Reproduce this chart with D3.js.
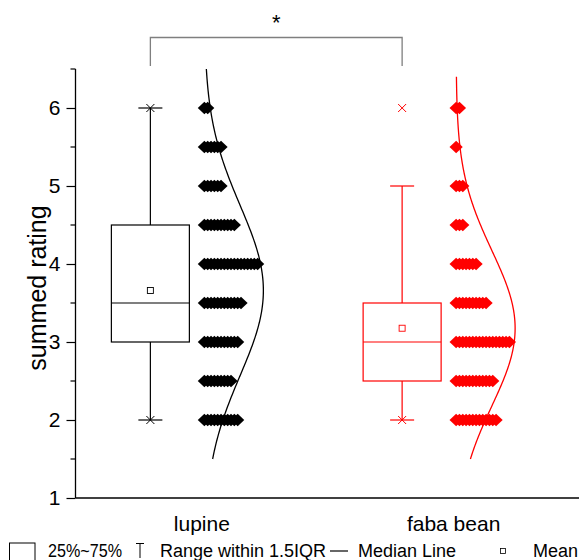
<!DOCTYPE html>
<html>
<head>
<meta charset="utf-8">
<script src="https://cdn.jsdelivr.net/npm/d3@7"></script>
<style>
  html, body { margin: 0; padding: 0; background: #fff; }
  svg { display: block; font-family: Arial, "Liberation Sans", sans-serif; }
</style>
</head>
<body>
<svg id="chart" width="581" height="560"></svg>
<script>
// ---- data ----
const categories = ["lupine", "faba bean"];
const ratingLevels = [2, 2.5, 3, 3.5, 4, 4.5, 5, 5.5, 6];
const lupineCounts = [11, 9, 11, 12, 17, 10, 6, 6, 2];
const fabaCounts   = [13, 12, 17, 10, 7, 3, 3, 1, 2];
const seriesColors = ["#000000", "#ff0000"];
const curveRanges  = [[1.5, 6.5], [1.5, 6.4]];
const yTicks = [1, 2, 3, 4, 5, 6];
const yMinorTicks = [1.5, 2.5, 3.5, 4.5, 5.5, 6.5];
const yTitle = "summed rating";
const significanceMark = "*";
const legendLabels = ["25%~75%", "Range within 1.5IQR", "Median Line", "Mean"];

const countsBySeries = [lupineCounts, fabaCounts];

// ---- layout ----
const svg = d3.select("#chart");
const axisLeft = 75.5, axisRight = 579, axisTop = 69, axisBottom = 498;

const y = d3.scaleLinear().domain([1, 6.5]).range([axisBottom, axisTop]);
const x = d3.scalePoint().domain(categories).range([axisLeft, axisRight]).padding(0.5);

const boxOffset = -51, boxWidth = 78, capWidth = 24;
const dotOffset = 3;                       // first marker of each row, right of the category
const dotStep = d3.scaleLinear().domain([0, 1]).range([0, 3.33]);
const curveWidth = d3.scaleLinear().range([0, 59]);

// ---- statistics per series ----
const stats = categories.map((cat, k) => {
  const values = [];
  ratingLevels.forEach((v, i) => { for (let j = 0; j < countsBySeries[k][i]; j++) values.push(v); });
  values.sort(d3.ascending);
  const q1 = d3.quantileSorted(values, 0.25);
  const med = d3.quantileSorted(values, 0.5);
  const q3 = d3.quantileSorted(values, 0.75);
  const iqr = q3 - q1;
  const lo = d3.min(values.filter(v => v >= q1 - 1.5 * iqr));
  const hi = d3.max(values.filter(v => v <= q3 + 1.5 * iqr));
  return {
    cat, k, values, q1, med, q3, lo, hi,
    mean: d3.mean(values), sd: d3.deviation(values),
    min: values[0], max: values[values.length - 1]
  };
});

// ---- axes ----
const gY = svg.append("g").attr("transform", `translate(${axisLeft},0)`);
gY.call(d3.axisLeft(y).tickValues(yTicks).tickFormat(d3.format("d")).tickSize(9).tickPadding(6))
  .call(g => g.select(".domain").remove());
gY.selectAll(".tick text").attr("font-size", 21).attr("fill", "#000")
  .attr("font-family", "Arial, 'Liberation Sans', sans-serif");
gY.selectAll(".tick line").attr("stroke", "#000").attr("stroke-width", 1.2);
gY.selectAll(".minor").data(yMinorTicks).join("line")
  .attr("x1", -5).attr("x2", 0)
  .attr("y1", d => y(d)).attr("y2", d => y(d))
  .attr("stroke", "#000").attr("stroke-width", 1.2);
gY.append("line").attr("x1", 0).attr("x2", 0).attr("y1", axisTop).attr("y2", axisBottom)
  .attr("stroke", "#000").attr("stroke-width", 1.3);

const gX = svg.append("g").attr("transform", `translate(0,${axisBottom})`);
gX.call(d3.axisBottom(x).tickSize(0).tickPadding(18))
  .call(g => g.select(".domain").remove());
gX.selectAll(".tick text").attr("font-size", 21).attr("fill", "#000")
  .attr("font-family", "Arial, 'Liberation Sans', sans-serif");
gX.append("line").attr("x1", axisLeft).attr("x2", axisRight).attr("y1", 0).attr("y2", 0)
  .attr("stroke", "#000").attr("stroke-width", 1.3);

svg.append("text")
  .attr("transform", "translate(37,288) rotate(-90)")
  .attr("text-anchor", "middle").attr("dominant-baseline", "central")
  .attr("font-size", 25).attr("fill", "#000").text(yTitle);

// ---- per-series drawing ----
function diamondPath(cx, cy) {
  const p = d3.path();
  p.moveTo(cx, cy - 6.2); p.lineTo(cx + 6.6, cy); p.lineTo(cx, cy + 6.2); p.lineTo(cx - 6.6, cy); p.closePath();
  return p.toString();
}
function cross(g, cx, cy, color) {
  const r = 4;
  g.append("path")
    .attr("d", `M${cx - r},${cy - r}L${cx + r},${cy + r}M${cx - r},${cy + r}L${cx + r},${cy - r}`)
    .attr("stroke", color).attr("stroke-width", 1).attr("fill", "none");
}

stats.forEach(s => {
  const color = seriesColors[s.k];
  const cx = x(s.cat);
  const bx = cx + boxOffset;
  const g = svg.append("g");

  // whiskers and caps
  g.append("line").attr("x1", bx).attr("x2", bx).attr("y1", y(s.q3)).attr("y2", y(s.hi))
    .attr("stroke", color).attr("stroke-width", 1.2);
  g.append("line").attr("x1", bx).attr("x2", bx).attr("y1", y(s.q1)).attr("y2", y(s.lo))
    .attr("stroke", color).attr("stroke-width", 1.2);
  [s.hi, s.lo].forEach(v => g.append("line")
    .attr("x1", bx - capWidth / 2).attr("x2", bx + capWidth / 2)
    .attr("y1", y(v)).attr("y2", y(v)).attr("stroke", color).attr("stroke-width", 1.2));

  // box and median
  g.append("rect").attr("x", bx - boxWidth / 2).attr("width", boxWidth)
    .attr("y", y(s.q3)).attr("height", y(s.q1) - y(s.q3))
    .attr("fill", "none").attr("stroke", color).attr("stroke-width", 1.2);
  g.append("line").attr("x1", bx - boxWidth / 2).attr("x2", bx + boxWidth / 2)
    .attr("y1", y(s.med)).attr("y2", y(s.med)).attr("stroke", color).attr("stroke-width", 1.2);

  // mean square
  g.append("rect").attr("x", bx - 3).attr("y", y(s.mean) - 3).attr("width", 6).attr("height", 6)
    .attr("fill", "none").attr("stroke", color).attr("stroke-width", 0.9);

  // min / max markers
  cross(g, bx, y(s.min), color);
  cross(g, bx, y(s.max), color);

  // stacked data markers
  const rows = d3.groups(s.values, v => v);
  rows.forEach(([v, arr]) => {
    g.selectAll(null).data(arr.map((_, i) => i)).join("path")
      .attr("d", i => diamondPath(cx + dotOffset + dotStep(i), y(v)))
      .attr("fill", color);
  });

  // normal distribution curve
  const pdf = t => Math.exp(-((t - s.mean) ** 2) / (2 * s.sd * s.sd)) / (s.sd * Math.sqrt(2 * Math.PI));
  curveWidth.domain([0, pdf(s.mean)]);
  const [r0, r1] = curveRanges[s.k];
  const pts = d3.range(0, 201).map(i => r0 + (r1 - r0) * i / 200);
  g.append("path")
    .datum(pts)
    .attr("d", d3.line().x(t => cx + dotOffset + curveWidth(pdf(t))).y(t => y(t)).curve(d3.curveBasis))
    .attr("fill", "none").attr("stroke", color).attr("stroke-width", 1.3);
});

// ---- significance bracket ----
const bL = x(categories[0]) + boxOffset, bR = x(categories[1]) + boxOffset;
svg.append("path")
  .attr("d", `M${bL},66V37.5H${bR}V66`)
  .attr("fill", "none").attr("stroke", "#7f7f7f").attr("stroke-width", 1.3);
svg.append("text").attr("x", (bL + bR) / 2).attr("y", 30)
  .attr("text-anchor", "middle").attr("font-size", 22).attr("fill", "#000").text(significanceMark);

// ---- legend ----
const lg = svg.append("g").attr("font-size", 18).attr("fill", "#000");
const ly = 551;
lg.append("rect").attr("x", 9.5).attr("y", 543).attr("width", 25.5).attr("height", 30)
  .attr("fill", "none").attr("stroke", "#000").attr("stroke-width", 1);
lg.append("text").attr("x", 48).attr("y", ly).attr("dominant-baseline", "central")
  .attr("textLength", 74).attr("lengthAdjust", "spacingAndGlyphs").text(legendLabels[0]);
lg.append("path").attr("d", "M136,543.5H144M140,543.5V558")
  .attr("stroke", "#000").attr("stroke-width", 1).attr("fill", "none");
lg.append("text").attr("x", 160).attr("y", ly).attr("dominant-baseline", "central").text(legendLabels[1]);
lg.append("line").attr("x1", 330).attr("x2", 348).attr("y1", ly).attr("y2", ly)
  .attr("stroke", "#000").attr("stroke-width", 1.2);
lg.append("text").attr("x", 358).attr("y", ly).attr("dominant-baseline", "central").text(legendLabels[2]);
lg.append("rect").attr("x", 500.5).attr("y", ly - 2.5).attr("width", 5).attr("height", 5)
  .attr("fill", "none").attr("stroke", "#000").attr("stroke-width", 0.8);
lg.append("text").attr("x", 533).attr("y", ly).attr("dominant-baseline", "central").text(legendLabels[3]);
</script>
</body>
</html>
